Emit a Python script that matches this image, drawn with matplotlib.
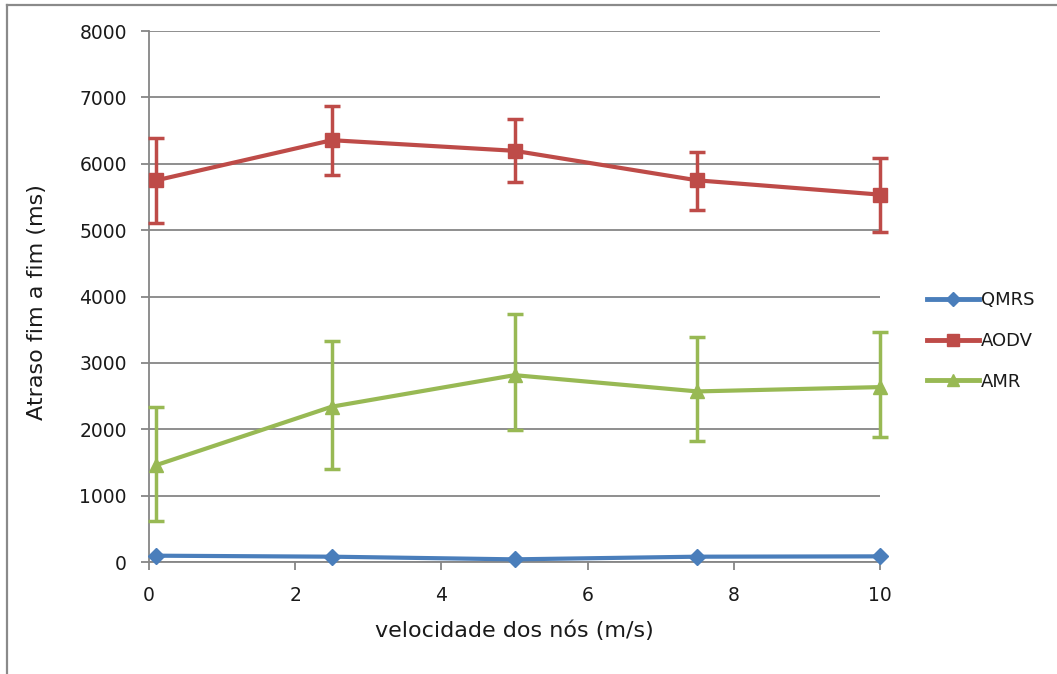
import matplotlib
matplotlib.use("Agg")
import matplotlib.pyplot as plt
from matplotlib.lines import Line2D

plt.rcParams['font.family'] = ['DejaVu Sans']

speeds = [0.1, 2.5, 5, 7.5, 10]
series_names = ["QMRS", "AODV", "AMR"]
qmrs = [95, 80, 40, 80, 85]
aodv = [5750, 6355, 6195, 5750, 5535]
aodv_hi = [6390, 6870, 6680, 6170, 6090]
aodv_lo = [5110, 5830, 5730, 5300, 4975]
amr = [1460, 2340, 2815, 2570, 2635]
amr_hi = [2340, 3330, 3730, 3385, 3460]
amr_lo = [625, 1395, 1990, 1830, 1890]

colors = {"QMRS": "#4A7EBB", "AODV": "#BE4B48", "AMR": "#98B954"}
markers = {"QMRS": "D", "AODV": "s", "AMR": "^"}
msizes = {"QMRS": 8, "AODV": 10, "AMR": 10}
grid_color = "#868686"
text_color = "#1a1a1a"

W, H = 1057, 674
fig = plt.figure(figsize=(W / 100, H / 100), dpi=100)
# outer frame: left and top edges
fig.add_artist(Line2D([6.5 / W, 6.5 / W], [0, 1 - 5 / H], transform=fig.transFigure,
                      color="#8a8a8a", lw=1.6))
fig.add_artist(Line2D([6.5 / W, 1], [1 - 5 / H, 1 - 5 / H], transform=fig.transFigure,
                      color="#8a8a8a", lw=1.6))

ax = fig.add_axes([149 / W, 1 - 562 / H, (880 - 149) / W, (562 - 31) / H])

ax.set_xlim(0, 10)
ax.set_ylim(0, 8000)
ax.set_yticks(range(0, 8001, 1000))
ax.set_xticks(range(0, 11, 2))
ax.grid(axis='y', color=grid_color, linewidth=1.3)
ax.set_axisbelow(True)
for s in ["top", "right"]:
    ax.spines[s].set_visible(False)
for s in ["left", "bottom"]:
    ax.spines[s].set_color(grid_color)
    ax.spines[s].set_linewidth(1.3)
ax.tick_params(axis='both', colors=grid_color, length=6, width=1.3, labelsize=13.5,
               labelcolor=text_color, direction='out')
ax.tick_params(axis='y', pad=10)
ax.tick_params(axis='x', pad=11)

lw = 3
ax.plot(speeds, qmrs, color=colors["QMRS"], lw=lw, marker='D', markersize=8,
        clip_on=False, zorder=5)

ax.errorbar(speeds, aodv,
            yerr=[[a - l for a, l in zip(aodv, aodv_lo)], [h - a for a, h in zip(aodv, aodv_hi)]],
            color=colors["AODV"], lw=lw, marker='s', markersize=10, elinewidth=2.5,
            capsize=6, capthick=2.5, clip_on=False, zorder=4)
ax.errorbar(speeds, amr,
            yerr=[[a - l for a, l in zip(amr, amr_lo)], [h - a for a, h in zip(amr, amr_hi)]],
            color=colors["AMR"], lw=lw, marker='^', markersize=10, elinewidth=2.5,
            capsize=6, capthick=2.5, clip_on=False, zorder=4)

ax.set_ylabel("Atraso fim a fim (ms)", fontsize=16, color=text_color)
ax.yaxis.set_label_coords((47 - 149) / (880 - 149), 0.49)
ax.set_xlabel("velocidade dos nós (m/s)", fontsize=16, color=text_color)
ax.xaxis.set_label_coords(0.5, -(621 - 562) / (562 - 31))

handles = [Line2D([], [], color=colors[n], lw=3.5, marker=markers[n],
                  markersize=msizes[n] - 1) for n in series_names]
leg = fig.legend(handles, series_names, loc='center left',
                 bbox_to_anchor=(927 / W, 1 - 341 / H),
                 frameon=False, fontsize=13, handlelength=2.9, handletextpad=0.1,
                 labelspacing=1.25, borderpad=0, borderaxespad=0)
for t in leg.get_texts():
    t.set_color(text_color)

fig.savefig("out.png", dpi=100)
